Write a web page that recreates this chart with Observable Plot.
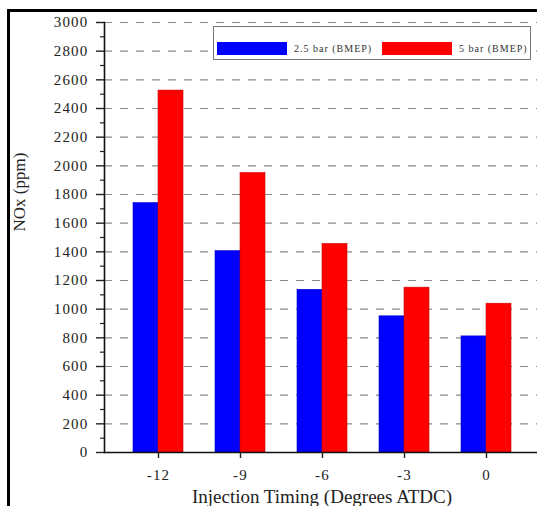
<!DOCTYPE html>
<html>
<head>
<meta charset="utf-8">
<script src="https://cdn.jsdelivr.net/npm/d3@7"></script>
<script src="https://cdn.jsdelivr.net/npm/@observablehq/plot@0.6"></script>
<style>
  html, body { margin: 0; padding: 0; background: #fff; width: 537px; height: 506px; overflow: hidden; }
  #wrap { position: relative; width: 537px; height: 506px; }
  #chart { position: absolute; left: 0; top: 0; }
  #chart svg text { font-family: "Liberation Serif", "Times New Roman", serif; }
  .border-left { position: absolute; left: 7px; top: 9px; width: 2.5px; height: 510px; background: #000; }
  .border-top { position: absolute; left: 7px; top: 9px; width: 540px; height: 2.5px; background: #000; }
  .legend { position: absolute; left: 213px; top: 26px; width: 316px; height: 32px; border: 1px solid #777;
            background: #fff; font-family: "Liberation Serif", "Times New Roman", serif; font-size: 10px; color: #333; letter-spacing: 1px; }
  .legend .sw { position: absolute; top: 15px; height: 13px; width: 70px; }
  .legend .lab { position: absolute; top: 15px; line-height: 13px; white-space: nowrap; }
  g[aria-label="x-axis tick label"] text, g[aria-label="y-axis tick label"] text { letter-spacing: 1.2px; }
</style>
</head>
<body>
<div id="wrap">
  <div id="chart"></div>
  <div class="border-left"></div>
  <div class="border-top"></div>
  <div class="legend" id="legend"></div>
</div>
<script>
// Injection timing categories and NOx emissions (ppm) at two loads
const timings = ["-12", "-9", "-6", "-3", "0"];
const nox25 = [1740, 1405, 1135, 950, 810];
const nox5 = [2525, 1950, 1455, 1150, 1038];
const seriesNames = ["2.5 bar (BMEP)", "5 bar (BMEP)"];
const seriesColors = ["#0000ff", "#ff0000"];
const yTicks = [0, 200, 400, 600, 800, 1000, 1200, 1400, 1600, 1800, 2000, 2200, 2400, 2600, 2800, 3000];
const yMinorTicks = [100, 300, 500, 700, 900, 1100, 1300, 1500, 1700, 1900, 2100, 2300, 2500, 2700, 2900];

const rows25 = timings.map((t, i) => ({timing: t, value: nox25[i]}));
const rows5 = timings.map((t, i) => ({timing: t, value: nox5[i]}));

const W = 537, H = 506;
const mLeft = 104, mRight = -2, mTop = 22, mBottom = 54;
const padInner = 0.392, padOuter = 0.339;
// band width of each timing group, split evenly between the two loads
const rangeW = W - mLeft - mRight;
const step = rangeW / (timings.length - padInner + 2 * padOuter);
const half = step * (1 - padInner) / 2;

const chart = Plot.plot({
  width: W,
  height: H,
  marginLeft: mLeft,
  marginRight: mRight,
  marginTop: mTop,
  marginBottom: mBottom,
  style: {fontFamily: "'Liberation Serif', 'Times New Roman', serif", color: "#222", background: "transparent", overflow: "visible"},
  x: {domain: timings, paddingInner: padInner, paddingOuter: padOuter, axis: null},
  y: {domain: [0, 3000], axis: null},
  marks: [
    Plot.gridY(yTicks.filter(d => d > 0), {stroke: "#8a8a8a", strokeOpacity: 1, strokeWidth: 1.2, strokeDasharray: "8,8"}),
    Plot.barY(rows25, {x: "timing", y: "value", fill: seriesColors[0], stroke: "#0000c8", strokeWidth: 0.6, insetRight: half}),
    Plot.barY(rows5, {x: "timing", y: "value", fill: seriesColors[1], stroke: "#c80000", strokeWidth: 0.6, insetLeft: half}),
    Plot.ruleY([0], {stroke: "#111", strokeWidth: 1.6}),
    Plot.frame({anchor: "left", stroke: "#111", strokeWidth: 1.6}),
    Plot.axisY(yTicks, {tickSize: 8, tickPadding: 8, fontSize: 15, strokeWidth: 1.4, label: null, tickFormat: d => String(d)}),
    Plot.axisY(yMinorTicks, {tickSize: 4, text: null, strokeWidth: 1.2, label: null}),
    Plot.axisX({tickSize: 6, tickPadding: 11, fontSize: 15, strokeWidth: 1.4, label: null}),
    Plot.text(["Injection Timing (Degrees ATDC)"], {frameAnchor: "bottom", lineAnchor: "bottom", dy: 50, fontSize: 19, fill: "#222"}),
    Plot.text(["NOx (ppm)"], {frameAnchor: "left", rotate: -90, dx: -85, dy: -6, fontSize: 17, fill: "#222"})
  ]
});
document.getElementById("chart").appendChild(chart);

// Legend box inside the plotting area
const legend = document.getElementById("legend");
const swLeft = [3, 168], labLeft = [80, 245];
seriesNames.forEach((name, i) => {
  const sw = document.createElement("div");
  sw.className = "sw";
  sw.style.left = swLeft[i] + "px";
  sw.style.background = seriesColors[i];
  legend.appendChild(sw);
  const lab = document.createElement("div");
  lab.className = "lab";
  lab.style.left = labLeft[i] + "px";
  lab.textContent = name;
  legend.appendChild(lab);
});
</script>
</body>
</html>
